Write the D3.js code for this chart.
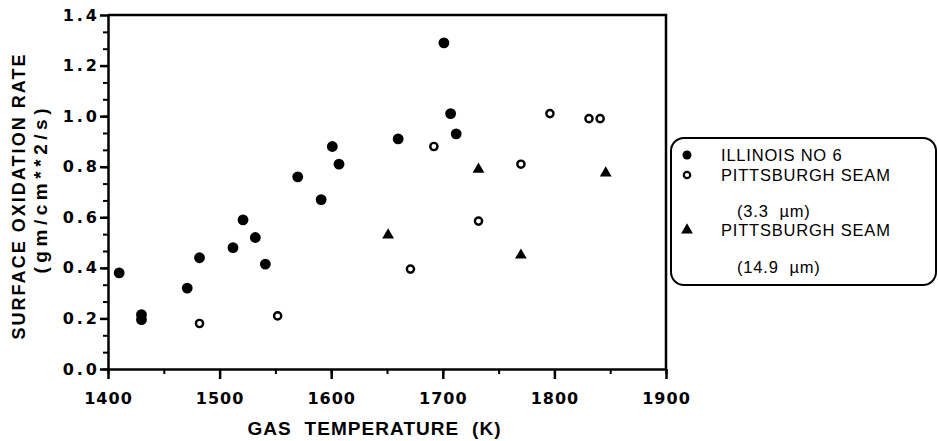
<!DOCTYPE html>
<html>
<head>
<meta charset="utf-8">
<script src="https://cdn.jsdelivr.net/npm/d3@7"></script>
<style>
  body { margin: 0; background: #fff; }
  svg { display: block; }
</style>
</head>
<body>
<div id="wrapper"></div>
<script>
// data (temperature in K, rate in gm/cm**2/s)
const illinoisTemp = [1410, 1430, 1430, 1471, 1482, 1512, 1521, 1532, 1541, 1570, 1591, 1601, 1607, 1660, 1701, 1707, 1712]
const illinoisRate = [0.38, 0.215, 0.195, 0.32, 0.44, 0.48, 0.59, 0.52, 0.415, 0.76, 0.67, 0.88, 0.81, 0.91, 1.29, 1.01, 0.93]

const pitt33Temp = [1482, 1552, 1671, 1692, 1732, 1770, 1796, 1831, 1841]
const pitt33Rate = [0.18, 0.21, 0.395, 0.88, 0.585, 0.81, 1.01, 0.99, 0.99]

const pitt149Temp = [1651, 1732, 1770, 1846]
const pitt149Rate = [0.53, 0.79, 0.45, 0.775]

const xTicks = [1400, 1500, 1600, 1700, 1800, 1900]
const yTicks = [0, 0.2, 0.4, 0.6, 0.8, 1.0, 1.2, 1.4]

const legendLabels = ["ILLINOIS NO 6", "PITTSBURGH SEAM", "(3.3  \u00b5m)", "PITTSBURGH SEAM", "(14.9  \u00b5m)"]

function drawChart(){

    let dimensions = {
        width: 938,
        height: 441,
        margin: {
            top: 15,
            right: 272,
            bottom: 72,
            left: 108,
        },
    }
    dimensions.boundedWidth = dimensions.width - dimensions.margin.left - dimensions.margin.right
    dimensions.boundedHeight = dimensions.height - dimensions.margin.top - dimensions.margin.bottom

    const wrapper = d3.select("#wrapper").append("svg")
        .attr("width", dimensions.width)
        .attr("height", dimensions.height)

    const bounds = wrapper.append("g")
        .attr("transform", `translate(${dimensions.margin.left},${dimensions.margin.top})`)

    //scales
    const xScale = d3.scaleLinear()
        .domain([1400, 1900])
        .range([0, dimensions.boundedWidth])

    const yScale = d3.scaleLinear()
        .domain([0, 1.4])
        .range([dimensions.boundedHeight, 0])

    //minor ticks first so the labelled axis sits on top
    const xMinor = d3.range(1400, 1901, 50)
    const yMinor = d3.range(0, 21).map(i => i * 0.2 / 3)

    bounds.append("g")
        .attr("transform", `translate(0,${dimensions.boundedHeight})`)
        .call(d3.axisBottom(xScale).tickValues(xMinor).tickSize(5).tickFormat(""))
        .call(g => g.select(".domain").remove())
        .selectAll("line").attr("stroke-width", 2)

    bounds.append("g")
        .call(d3.axisLeft(yScale).tickValues(yMinor).tickSize(5).tickFormat(""))
        .call(g => g.select(".domain").remove())
        .selectAll("line").attr("stroke-width", 2)

    const xAxis = bounds.append("g")
        .attr("transform", `translate(0,${dimensions.boundedHeight})`)
        .call(d3.axisBottom(xScale).tickValues(xTicks).tickSize(10).tickSizeOuter(0).tickPadding(14).tickFormat(d3.format("d")))

    const yAxis = bounds.append("g")
        .call(d3.axisLeft(yScale).tickValues(yTicks).tickSize(8).tickSizeOuter(0).tickPadding(0).tickFormat(d3.format(".1f")))

    xAxis.selectAll("text")
        .attr("font-family", "DejaVu Sans")
        .attr("font-weight", "bold")
        .attr("font-size", 16)
        .attr("letter-spacing", 1)
        .attr("fill", "#000")
    yAxis.selectAll("text")
        .attr("font-family", "DejaVu Sans")
        .attr("font-weight", "bold")
        .attr("font-size", 16)
        .attr("letter-spacing", 3)
        .attr("fill", "#000")
    xAxis.selectAll("line, path").attr("stroke-width", 2.5)
    yAxis.selectAll("line, path").attr("stroke-width", 2.5)

    //top and right frame
    bounds.append("path")
        .attr("d", `M${xScale(1400)},${yScale(1.4)}H${xScale(1900)}V${yScale(0)}`)
        .attr("fill", "none")
        .attr("stroke", "#000")
        .attr("stroke-width", 2.5)

    //axis titles
    wrapper.append("text")
        .attr("x", 374)
        .attr("y", 435)
        .attr("text-anchor", "middle")
        .attr("font-family", "Liberation Sans")
        .attr("font-weight", "bold")
        .attr("font-size", 19)
        .style("white-space", "pre")
        .attr("textLength", 253)
        .attr("lengthAdjust", "spacing")
        .text("GAS  TEMPERATURE  (K)")

    wrapper.append("text")
        .attr("transform", "translate(25,197) rotate(-90)")
        .attr("text-anchor", "middle")
        .attr("font-family", "Liberation Sans")
        .attr("font-weight", "bold")
        .attr("font-size", 18)
        .attr("textLength", 285)
        .attr("lengthAdjust", "spacing")
        .text("SURFACE OXIDATION RATE")

    wrapper.append("text")
        .attr("transform", "translate(47,191) rotate(-90)")
        .attr("text-anchor", "middle")
        .attr("font-family", "Liberation Sans")
        .attr("font-weight", "bold")
        .attr("font-size", 19)
        .attr("textLength", 165)
        .attr("lengthAdjust", "spacing")
        .text("(gm/cm**2/s)")

    //points
    const triangle = d3.symbol().type(d3.symbolTriangle).size(60)

    bounds.append("g").selectAll("circle")
        .data(illinoisTemp)
        .join("circle")
        .attr("cx", d => xScale(d))
        .attr("cy", (d, i) => yScale(illinoisRate[i]))
        .attr("r", 5.4)
        .attr("fill", "#000")

    bounds.append("g").selectAll("circle")
        .data(pitt33Temp)
        .join("circle")
        .attr("cx", d => xScale(d))
        .attr("cy", (d, i) => yScale(pitt33Rate[i]))
        .attr("r", 3.6)
        .attr("fill", "none")
        .attr("stroke", "#000")
        .attr("stroke-width", 2.4)

    bounds.append("g").selectAll("path")
        .data(pitt149Temp)
        .join("path")
        .attr("d", triangle)
        .attr("transform", (d, i) => `translate(${xScale(d)},${yScale(pitt149Rate[i])})`)
        .attr("fill", "#000")

    //legend
    const legend = wrapper.append("g")
    legend.append("rect")
        .attr("x", 671)
        .attr("y", 138)
        .attr("width", 265)
        .attr("height", 147)
        .attr("rx", 13)
        .attr("fill", "none")
        .attr("stroke", "#000")
        .attr("stroke-width", 2)

    const legendRows = [155, 175, 211, 230, 267]
    const legendX = [721, 721, 737, 721, 737]

    legend.selectAll("text")
        .data(legendLabels)
        .join("text")
        .attr("x", (d, i) => legendX[i])
        .attr("y", (d, i) => legendRows[i] + 6)
        .attr("font-family", "Liberation Sans")
        .attr("font-size", 16.5)
        .attr("letter-spacing", 0.8)
        .style("white-space", "pre")
        .text(d => d)

    legend.append("circle")
        .attr("cx", 687).attr("cy", legendRows[0])
        .attr("r", 4.5).attr("fill", "#000")
    legend.append("circle")
        .attr("cx", 687).attr("cy", legendRows[1])
        .attr("r", 3.2).attr("fill", "none")
        .attr("stroke", "#000").attr("stroke-width", 2.2)
    legend.append("path")
        .attr("d", triangle)
        .attr("transform", `translate(687,${legendRows[3]})`)
        .attr("fill", "#000")
}

drawChart()
</script>
</body>
</html>
